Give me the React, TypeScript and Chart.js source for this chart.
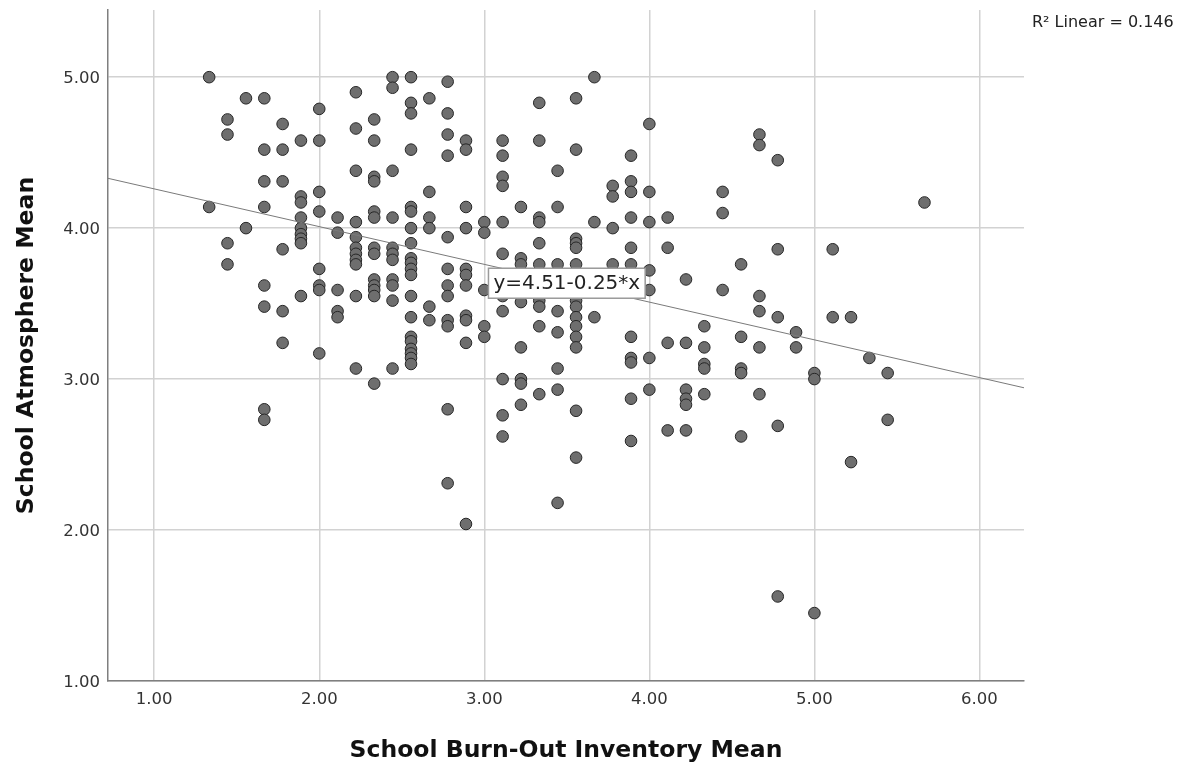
import React, { useEffect, useRef } from "react";
import { Chart, registerables } from "chart.js";

Chart.register(...registerables);

// ---- data ----
const xTickValues = [1, 2, 3, 4, 5, 6];
const yTickValues = [1, 2, 3, 4, 5];
const xRange = [0.72, 6.27];
const yRange = [1, 5.445];

const burnOutLevels = [
  1.333, 1.444, 1.556, 1.667, 1.778, 1.889, 2.0, 2.111, 2.222, 2.333,
  2.444, 2.556, 2.667, 2.778, 2.889, 3.0, 3.111, 3.222, 3.333, 3.444,
  3.556, 3.667, 3.778, 3.889, 4.0, 4.111, 4.222, 4.333, 4.444, 4.556,
  4.667, 4.778, 4.889, 5.0, 5.111, 5.222, 5.333, 5.444, 5.667,
];

const atmosphereByLevel = [
  [5.0, 4.14],
  [4.72, 4.62, 3.9, 3.76],
  [4.86, 4.0],
  [4.86, 4.52, 4.31, 4.14, 3.62, 3.48, 2.8, 2.73],
  [4.69, 4.52, 4.31, 3.86, 3.45, 3.24],
  [4.58, 4.21, 4.17, 4.07, 4.0, 3.96, 3.93, 3.9, 3.55],
  [4.79, 4.58, 4.24, 4.11, 3.73, 3.62, 3.59, 3.17],
  [4.07, 3.97, 3.59, 3.45, 3.41],
  [4.9, 4.66, 4.38, 4.04, 3.94, 3.87, 3.83, 3.79, 3.76, 3.55, 3.07],
  [4.72, 4.58, 4.34, 4.31, 4.11, 4.07, 3.87, 3.83, 3.66, 3.62, 3.59, 3.55, 2.97],
  [5.0, 4.93, 4.38, 4.07, 3.87, 3.83, 3.79, 3.66, 3.62, 3.52, 3.07],
  [5.0, 4.83, 4.76, 4.52, 4.14, 4.11, 4.0, 3.9, 3.8, 3.77, 3.73, 3.69, 3.55, 3.41, 3.28, 3.25, 3.2, 3.17, 3.14, 3.1],
  [4.86, 4.24, 4.07, 4.0, 3.48, 3.39],
  [4.97, 4.76, 4.62, 4.48, 3.94, 3.73, 3.62, 3.55, 3.39, 3.35, 2.8, 2.31],
  [4.58, 4.52, 4.14, 4.0, 3.73, 3.69, 3.62, 3.42, 3.39, 3.24, 2.04],
  [4.04, 3.97, 3.59, 3.35, 3.28],
  [4.58, 4.48, 4.34, 4.28, 4.04, 3.83, 3.55, 3.45, 3.0, 2.76, 2.62],
  [4.14, 3.8, 3.76, 3.51, 3.21, 3.0, 2.97, 2.83],
  [4.83, 4.58, 4.07, 4.04, 3.9, 3.76, 3.52, 3.48, 3.35, 2.9],
  [4.38, 4.14, 3.76, 3.62, 3.45, 3.31, 3.07, 2.93, 2.18],
  [4.86, 4.52, 3.93, 3.9, 3.87, 3.76, 3.52, 3.48, 3.41, 3.35, 3.28, 3.21, 2.79, 2.48],
  [5.0, 4.04, 3.62, 3.41],
  [4.28, 4.21, 4.0, 3.76, 3.69],
  [4.48, 4.31, 4.24, 4.07, 3.87, 3.76, 3.28, 3.14, 3.11, 2.87, 2.59],
  [4.69, 4.24, 4.04, 3.72, 3.59, 3.14, 2.93],
  [4.07, 3.87, 3.24, 2.66],
  [3.66, 3.24, 2.93, 2.87, 2.83, 2.66],
  [3.35, 3.21, 3.1, 3.07, 2.9],
  [4.24, 4.1, 3.59],
  [3.76, 3.28, 3.07, 3.04, 2.62],
  [4.62, 4.55, 3.55, 3.45, 3.21, 2.9],
  [4.45, 3.86, 3.41, 2.69, 1.56],
  [3.31, 3.21],
  [3.04, 3.0, 1.45],
  [3.86, 3.41],
  [3.41, 2.45],
  [3.14],
  [3.04, 2.73],
  [4.17],
];

const fitIntercept = 4.51;
const fitSlope = -0.25;
const rSquared = 0.146;
const fitLabelAtX = 3.5;

const xTitle = "School Burn-Out Inventory Mean";
const yTitle = "School Atmosphere Mean";

const FONT = '"DejaVu Sans", "Liberation Sans", sans-serif';

export default function App() {
  const canvasRef = useRef<HTMLCanvasElement | null>(null);

  useEffect(() => {
    document.body.style.margin = "0";
    const canvas = canvasRef.current;
    if (!canvas) return;

    const points: { x: number; y: number }[] = [];
    burnOutLevels.forEach((x, i) => {
      atmosphereByLevel[i].forEach((y) => points.push({ x, y }));
    });

    const fitLine = [
      { x: xRange[0], y: fitIntercept + fitSlope * xRange[0] },
      { x: xRange[1], y: fitIntercept + fitSlope * xRange[1] },
    ];

    const fitLabelPlugin = {
      id: "fitLabel",
      afterDatasetsDraw(chart: any) {
        const ctx = chart.ctx;
        const xs = chart.scales.x;
        const ys = chart.scales.y;
        const px = xs.getPixelForValue(fitLabelAtX);
        const py = ys.getPixelForValue(fitIntercept + fitSlope * fitLabelAtX);
        const text = `y=${fitIntercept.toFixed(2)}-${Math.abs(fitSlope).toFixed(2)}*x`;
        ctx.save();
        ctx.font = `20px ${FONT}`;
        const w = ctx.measureText(text).width + 10;
        const h = 30;
        ctx.fillStyle = "#ffffff";
        ctx.fillRect(px - w / 2, py - h / 2, w, h);
        ctx.strokeStyle = "#9a9a9a";
        ctx.lineWidth = 1.5;
        ctx.strokeRect(px - w / 2, py - h / 2, w, h);
        ctx.fillStyle = "#222222";
        ctx.textAlign = "center";
        ctx.textBaseline = "middle";
        ctx.fillText(text, px, py + 1);
        ctx.restore();
      },
      afterDraw(chart: any) {
        const ctx = chart.ctx;
        ctx.save();
        ctx.font = `16px ${FONT}`;
        ctx.fillStyle = "#222222";
        ctx.textAlign = "left";
        ctx.textBaseline = "middle";
        ctx.fillText(`R\u00B2 Linear = ${rSquared.toFixed(3)}`, chart.chartArea.right + 8, 23);
        ctx.restore();
      },
    };

    const tickFont = { family: FONT, size: 16.5 };
    const titleFont = { family: FONT, size: 23.5, weight: "bold" as const };
    const gridOpts = { color: "#d2d2d2", lineWidth: 1.5, drawTicks: false };
    const borderOpts = { color: "#7f7f7f", width: 1.5 };

    const chart = new Chart(canvas, {
      type: "scatter",
      data: {
        datasets: [
          {
            label: "fit",
            data: fitLine,
            showLine: true,
            borderColor: "#7a7a7a",
            borderWidth: 1,
            pointRadius: 0,
            pointHoverRadius: 0,
            fill: false,
          } as any,
          {
            label: "points",
            data: points,
            pointRadius: 5.8,
            pointHoverRadius: 5.8,
            backgroundColor: "#6e6e6e",
            borderColor: "#262626",
            borderWidth: 1,
          },
        ],
      },
      options: {
        animation: false,
        responsive: false,
        devicePixelRatio: 1,
        layout: { padding: { left: 0, top: 10, right: 176, bottom: 0 } },
        plugins: {
          legend: { display: false },
          tooltip: { enabled: false },
        },
        events: [],
        scales: {
          x: {
            type: "linear",
            min: xRange[0],
            max: xRange[1],
            afterBuildTicks: (s: any) => {
              s.ticks = xTickValues.map((value) => ({ value }));
            },
            afterFit: (s: any) => {
              s.height = 84;
              s.paddingLeft = 0;
              s.paddingRight = 0;
            },
            ticks: {
              font: tickFont,
              color: "#333333",
              padding: 9,
              maxRotation: 0,
              autoSkip: false,
              callback: (v: any) => Number(v).toFixed(2),
            },
            grid: gridOpts,
            border: borderOpts,
            title: {
              display: true,
              text: xTitle,
              font: titleFont,
              color: "#111111",
              padding: { top: 5.5, bottom: 0 },
            },
          },
          y: {
            type: "linear",
            min: yRange[0],
            max: yRange[1],
            afterBuildTicks: (s: any) => {
              s.ticks = yTickValues.map((value) => ({ value }));
            },
            afterFit: (s: any) => {
              s.width = 108;
              s.paddingTop = 0;
              s.paddingBottom = 0;
            },
            ticks: {
              font: tickFont,
              color: "#333333",
              padding: 8,
              labelOffset: 2,
              autoSkip: false,
              callback: (v: any) => Number(v).toFixed(2),
            },
            grid: gridOpts,
            border: borderOpts,
            title: {
              display: true,
              text: yTitle,
              font: titleFont,
              color: "#111111",
              padding: { top: 12.5, bottom: 0 },
            },
          },
        },
      },
      plugins: [fitLabelPlugin],
    });

    return () => chart.destroy();
  }, []);

  return (
    <div style={{ position: "absolute", left: 0, top: 0, width: 1200, height: 765, background: "#ffffff" }}>
      <canvas ref={canvasRef} width={1200} height={765} style={{ display: "block", width: 1200, height: 765 }} />
    </div>
  );
}
